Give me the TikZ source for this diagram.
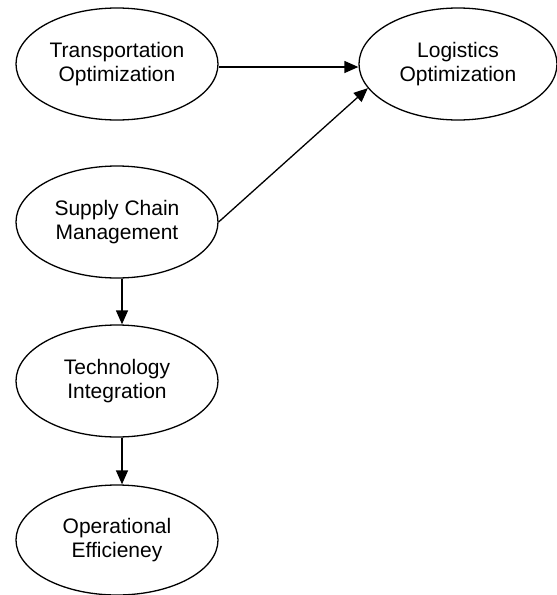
\documentclass[tikz,border=0pt]{standalone}
\usepackage{fontspec}
\setmainfont{Liberation Sans}
\usetikzlibrary{shapes.geometric,arrows.meta}
\begin{document}
\begin{tikzpicture}[x=1pt,y=-1pt,
  concept/.style={draw,ellipse,line width=1.3pt,inner sep=0pt,
    minimum width=202pt,minimum height=112pt,align=center,
    font=\fontsize{21}{24.5}\selectfont},
  link/.style={line width=1.3pt,-{Triangle[length=14pt,width=12pt]}}]
\useasboundingbox (0,0) rectangle (557,595);
\node[concept] (tr) at (117,64) {Transportation\\Optimization};
\node[concept,minimum width=198pt] (lo) at (458,64) {Logistics\\Optimization};
\node[concept] (sc) at (117,222) {Supply Chain\\Management};
\node[concept] (ti) at (117,381) {Technology\\Integration};
\node[concept,minimum height=110pt] (oe) at (117,540) {Operational\\Efficieney};
\draw[link] ([yshift=-3pt]tr.east) -- ([yshift=-3pt]lo.west);
\draw[link] (sc.east) -- (lo.195);
\draw[link] ([xshift=5pt]sc.south) -- ([xshift=5pt]ti.north);
\draw[link] ([xshift=5pt]ti.south) -- ([xshift=5pt]oe.north);
\end{tikzpicture}
\end{document}
